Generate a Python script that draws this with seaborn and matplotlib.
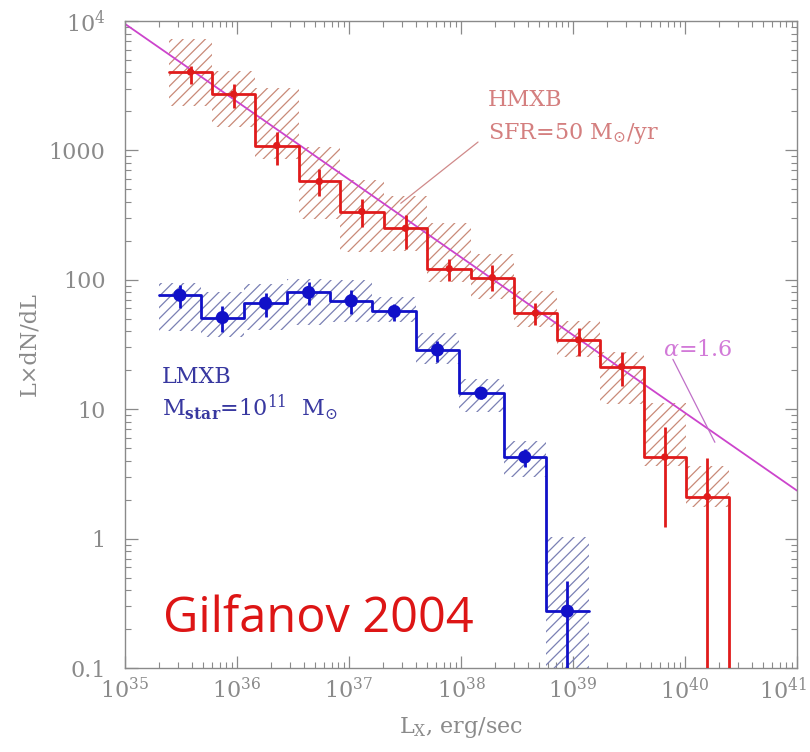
import numpy as np
import pandas as pd
import matplotlib
matplotlib.use("Agg")
import matplotlib.pyplot as plt
import matplotlib.transforms as mtransforms
import seaborn as sns

# ---------------- data ----------------
# HMXB (SFR = 50 Msun/yr): log10 bin edges, step values, error bars, hatched band
hmxb_log_edges = [35.39, 35.78, 36.16, 36.55, 36.92, 37.31, 37.70, 38.09, 38.47, 38.86, 39.24, 39.63, 40.01, 40.39]
hmxb_val = [4030, 2720, 1090, 575, 337, 250, 122, 104, 55.2, 34.3, 21.3, 4.27, 2.11]
hmxb_err_hi = [4490, 3260, 1385, 717, 420, 316, 144, 130, 65.9, 42.2, 27.5, 7.24, 4.17]
hmxb_err_lo = [3260, 2120, 769, 443, 255, 173, 97.5, 81.6, 44.6, 25.6, 15.0, 1.22, 0.01]
hmxb_band_hi = [7260, 4100, 3030, 1060, 589, 443, 274, 158, 81.6, 47.9, 27.5, 11.1, 3.61]
hmxb_band_lo = [2200, 1510, 857, 294, 163, 166, 95.8, 70.8, 43.0, 25.2, 10.9, 3.61, 1.77]

# LMXB (M_star = 1e11 Msun)
lmxb_log_edges = [35.30, 35.68, 36.06, 36.45, 36.83, 37.21, 37.60, 37.98, 38.38, 38.76, 39.14]
lmxb_val = [76.0, 51.1, 65.9, 79.8, 68.7, 56.9, 28.7, 13.3, 4.27, 0.275]
lmxb_err_hi = [90.8, 62.5, 78.7, 95.8, 83.2, 64.7, 33.5, 14.8, 4.90, 0.467]
lmxb_err_lo = [60.3, 39.4, 51.4, 63.6, 54.2, 47.9, 23.1, 11.9, 3.56, 0.01]
lmxb_band_hi = [95.0, 80.0, 92.5, 101, 100, 73.3, 38.6, 17.0, 5.65, 1.02]
lmxb_band_lo = [40.0, 36.0, 41.0, 45.0, 47.0, 47.0, 22.3, 9.46, 2.97, 0.01]

# power law alpha = 1.6 (end points)
pl_x = [1e35, 1e41]
pl_y = [9500, 2.35]

x_ticks = [1e35, 1e36, 1e37, 1e38, 1e39, 1e40, 1e41]
x_ticklabels = [r"$10^{35}$", r"$10^{36}$", r"$10^{37}$", r"$10^{38}$", r"$10^{39}$", r"$10^{40}$", r"$10^{41}$"]
y_ticks = [0.1, 1, 10, 100, 1000, 1e4]
y_ticklabels = ["0.1", "1", "10", "100", "1000", r"$10^{4}$"]

# ---------------- styling ----------------
sns.set_theme(style="white")
plt.rcParams["font.family"] = ["DejaVu Serif"]
plt.rcParams["mathtext.fontset"] = "dejavuserif"
plt.rcParams["hatch.linewidth"] = 0.9

RED = "#e01b1b"
RED_H = "#c98a78"
BLUE = "#1111c8"
BLUE_H = "#7a80b4"
MAG = "#cc44cc"
GREY = "#8a8a8a"

fig = plt.figure(figsize=(8.10, 7.52), dpi=100)
ax = fig.add_axes([0.1543, 0.1117, 0.8296, 0.8604])
ax.set_xscale("log")
ax.set_yscale("log")
ax.set_xlim(1e35, 1e41)
ax.set_ylim(0.1, 1e4)

YBOT = 0.01


def draw_set(log_edges, val, ehi, elo, bhi, blo, col, hcol, msize, drop_end):
    edges = 10 ** np.array(log_edges)
    left, right = edges[:-1], edges[1:]
    centers = 10 ** ((np.array(log_edges[:-1]) + np.array(log_edges[1:])) / 2)
    blo_a = np.array(blo)
    bhi_a = np.array(bhi)
    ax.bar(left, bhi_a - blo_a, width=right - left, bottom=blo_a, align="edge",
           fill=False, hatch="///", edgecolor=hcol, linewidth=0, zorder=1)
    xs = list(edges) + ([edges[-1]] if drop_end else [])
    ys = list(val) + [val[-1]] + ([YBOT] if drop_end else [])
    step = pd.DataFrame({"x": xs, "y": ys})
    sns.lineplot(data=step, x="x", y="y", ax=ax, estimator=None, sort=False,
                 drawstyle="steps-post", color=col, linewidth=2.0, zorder=3)
    ax.vlines(centers, elo, ehi, color=col, linewidth=2.0, zorder=4)
    pts = pd.DataFrame({"x": centers, "y": val})
    sns.scatterplot(data=pts, x="x", y="y", ax=ax, color=col, s=msize,
                    edgecolor="none", zorder=5)


draw_set(hmxb_log_edges, hmxb_val, hmxb_err_hi, hmxb_err_lo, hmxb_band_hi, hmxb_band_lo,
         RED, RED_H, 28, True)
draw_set(lmxb_log_edges, lmxb_val, lmxb_err_hi, lmxb_err_lo, lmxb_band_hi, lmxb_band_lo,
         BLUE, BLUE_H, 90, False)

sns.lineplot(x=pl_x, y=pl_y, ax=ax, color=MAG, linewidth=1.3, zorder=2)

# annotations
ax.text(1.75e38, 2200, "HMXB", color="#d47f7f", fontsize=16, va="baseline")
ax.text(1.75e38, 1222, r"SFR=50 M$_{\odot}$/yr", color="#d47f7f", fontsize=16, va="baseline")
ax.plot([2.9e37, 1.42e38], [390, 1160], color="#d08a8a", linewidth=0.9, zorder=2)

ax.text(6.4e39, 25.6, r"$\alpha$=1.6", color="#d27ad8", fontsize=16, va="baseline")
ax.plot([7.8e39, 1.85e40], [24.3, 5.55], color="#c070c8", linewidth=0.9, zorder=2)

ax.text(2.14e35, 15.9, "LMXB", color="#3838a0", fontsize=16, va="baseline")
ax.text(2.14e35, 8.8, r"M$_{\mathbf{star}}$=10$^{11}$  M$_{\odot}$", color="#3838a0",
        fontsize=16, va="baseline")

ax.text(2.18e35, 0.191, "Gilfanov 2004", color="#dd1515", fontsize=35,
        va="baseline", family=["Open Sans", "DejaVu Sans"])

# axes cosmetics
ax.set_xticks(x_ticks)
ax.set_xticklabels(x_ticklabels)
ax.set_yticks(y_ticks)
ax.set_yticklabels(y_ticklabels)
ax.xaxis.set_minor_locator(matplotlib.ticker.LogLocator(base=10, subs=np.arange(2, 10), numticks=20))
ax.yaxis.set_minor_locator(matplotlib.ticker.LogLocator(base=10, subs=np.arange(2, 10), numticks=20))
ax.xaxis.set_minor_formatter(matplotlib.ticker.NullFormatter())
ax.yaxis.set_minor_formatter(matplotlib.ticker.NullFormatter())
ax.tick_params(which="both", direction="in", top=True, right=True, bottom=True, left=True,
               color=GREY, labelcolor=GREY, labelsize=16)
ax.tick_params(which="major", length=9, width=0.9)
ax.tick_params(which="minor", length=4.5, width=0.8)
ax.tick_params(axis="x", which="major", pad=7)
ax.tick_params(axis="y", which="major", pad=14)
for s in ax.spines.values():
    s.set_color(GREY)
    s.set_linewidth(1.0)

# keep the last x tick label inside the figure
last = ax.get_xticklabels()[-1]
last.set_transform(last.get_transform() +
                   mtransforms.ScaledTranslation(-14 / 100, 0, fig.dpi_scale_trans))

ax.set_xlabel(r"L$_{\mathrm{X}}$, erg/sec", color=GREY, fontsize=16, labelpad=8)
ax.set_ylabel("L×dN/dL", color=GREY, fontsize=16, labelpad=6)

fig.savefig("out.png", dpi=100, facecolor="white")
